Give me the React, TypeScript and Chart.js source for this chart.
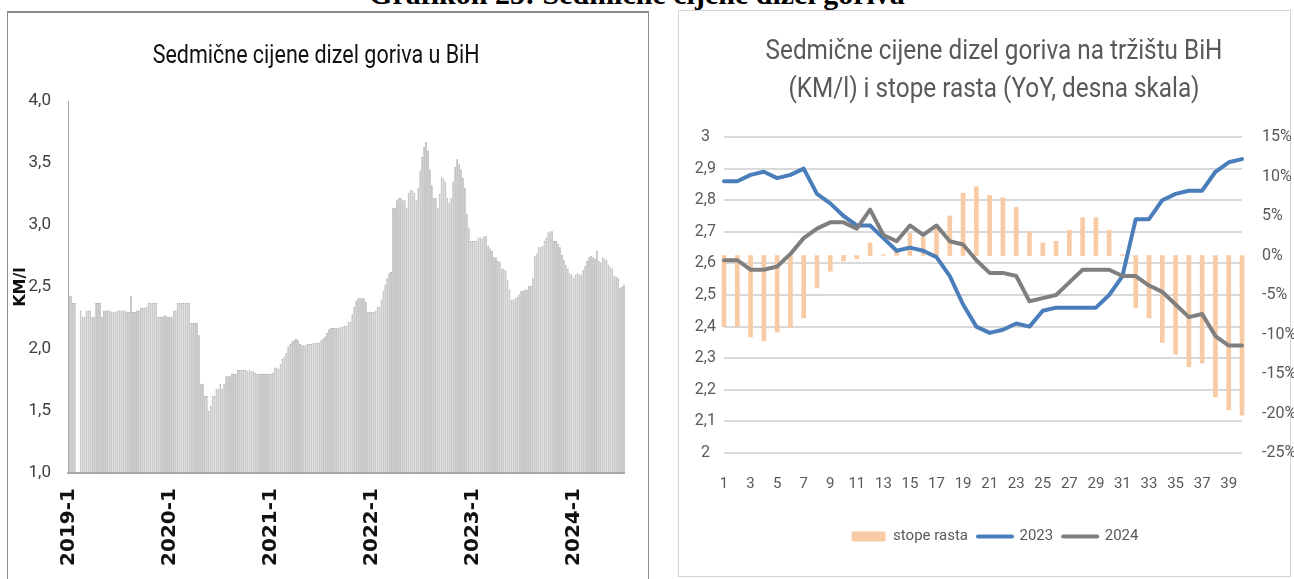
import React, { useEffect, useRef } from 'react';
import { Chart, registerables } from 'chart.js';
Chart.register(...registerables);

const NARROW = "'Liberation Sans Narrow', 'Roboto', sans-serif";

// ---------- Left chart: weekly diesel prices (KM/l), 2019-1 .. 2024-27 ----------
const startYear = 2019;
const weeklyPrices: (number | null)[] = [
  2.43, 2.43, 2.37, 2.37, null, null, 2.31, 2.26, 2.26, 2.31,
  2.31, 2.31, 2.26, 2.26, 2.37, 2.37, 2.37, 2.26, 2.31, 2.31,
  2.31, 2.31, 2.30, 2.30, 2.30, 2.31, 2.31, 2.31, 2.31, 2.31,
  2.30, 2.30, 2.43, 2.30, 2.30, 2.31, 2.31, 2.33, 2.33, 2.33,
  2.34, 2.37, 2.37, 2.37, 2.37, 2.37, 2.26, 2.26, 2.26, 2.27,
  2.27, 2.26, 2.26, 2.26, 2.31, 2.31, 2.37, 2.37, 2.37, 2.37,
  2.37, 2.37, 2.37, 2.21, 2.21, 2.21, 2.21, 2.11, 1.72, 1.72,
  1.62, 1.62, 1.50, 1.54, 1.62, 1.62, 1.68, 1.68, 1.72, 1.68,
  1.72, 1.78, 1.78, 1.78, 1.80, 1.80, 1.80, 1.83, 1.83, 1.83,
  1.83, 1.83, 1.82, 1.83, 1.82, 1.82, 1.81, 1.80, 1.80, 1.80,
  1.80, 1.80, 1.80, 1.80, 1.80, 1.81, 1.85, 1.85, 1.84, 1.88,
  1.92, 1.94, 1.97, 2.02, 2.04, 2.06, 2.07, 2.08, 2.07, 2.04,
  2.03, 2.03, 2.03, 2.04, 2.04, 2.04, 2.05, 2.05, 2.05, 2.05,
  2.07, 2.08, 2.10, 2.13, 2.16, 2.17, 2.17, 2.17, 2.17, 2.17,
  2.18, 2.18, 2.19, 2.19, 2.22, 2.22, 2.28, 2.34, 2.39, 2.41,
  2.41, 2.41, 2.41, 2.38, 2.30, 2.30, 2.30, 2.30, 2.31, 2.34,
  2.34, 2.40, 2.47, 2.52, 2.57, 2.61, 2.62, 3.14, 3.14, 3.20,
  3.22, 3.22, 3.20, 3.20, 3.14, 3.26, 3.28, 3.28, 3.26, 3.20,
  3.30, 3.44, 3.55, 3.63, 3.67, 3.60, 3.45, 3.32, 3.22, 3.22,
  3.14, 3.25, 3.39, 3.37, 3.35, 3.22, 3.18, 3.22, 3.35, 3.47,
  3.53, 3.49, 3.45, 3.38, 3.30, 3.09, 2.98, 2.87, 2.87, 2.87,
  2.87, 2.90, 2.90, 2.89, 2.91, 2.91, 2.83, 2.81, 2.79, 2.74,
  2.74, 2.71, 2.70, 2.65, 2.65, 2.63, 2.56, 2.48, 2.40, 2.40,
  2.41, 2.42, 2.44, 2.47, 2.47, 2.48, 2.48, 2.51, 2.51, 2.57,
  2.75, 2.77, 2.82, 2.82, 2.83, 2.87, 2.90, 2.94, 2.95, 2.95,
  2.87, 2.87, 2.85, 2.82, 2.76, 2.72, 2.68, 2.65, 2.61, 2.60,
  2.57, 2.60, 2.61, 2.60, 2.60, 2.64, 2.67, 2.71, 2.74, 2.75,
  2.74, 2.73, 2.79, 2.71, 2.70, 2.74, 2.73, 2.72, 2.68, 2.66,
  2.65, 2.59, 2.58, 2.57, 2.49, 2.50, 2.52,
];
const weekLabels: string[] = [];
for (let i = 0; i < weeklyPrices.length; i++) {
  weekLabels.push(`${startYear + Math.floor(i / 52)}-${(i % 52) + 1}`);
}
const leftYTicks = [1, 1.5, 2, 2.5, 3, 3.5, 4];

// ---------- Right chart: weeks 1..40, 2023 vs 2024, YoY growth ----------
const weekNums: string[] = [
  '1', '2', '3', '4', '5', '6', '7', '8', '9', '10',
  '11', '12', '13', '14', '15', '16', '17', '18', '19', '20',
  '21', '22', '23', '24', '25', '26', '27', '28', '29', '30',
  '31', '32', '33', '34', '35', '36', '37', '38', '39', '40',
];
const growthRates: number[] = [
  -9.0, -9.0, -10.3, -10.8, -9.7, -9.1, -7.9, -4.1, -2.0, -0.7,
  -0.4, 1.6, 0.1, 0.5, 2.8, 2.3, 3.4, 5.0, 7.9, 8.7,
  7.6, 7.3, 6.1, 3.0, 1.6, 1.8, 3.2, 4.8, 4.8, 3.2,
  0.1, -6.6, -7.9, -11.0, -12.5, -14.1, -13.6, -17.9, -19.5, -20.2,
];
const prices2023: number[] = [
  2.86, 2.86, 2.88, 2.89, 2.87, 2.88, 2.90, 2.82, 2.79, 2.75,
  2.72, 2.72, 2.68, 2.64, 2.65, 2.64, 2.62, 2.56, 2.47, 2.40,
  2.38, 2.39, 2.41, 2.40, 2.45, 2.46, 2.46, 2.46, 2.46, 2.50,
  2.56, 2.74, 2.74, 2.80, 2.82, 2.83, 2.83, 2.89, 2.92, 2.93,
];
const prices2024: number[] = [
  2.61, 2.61, 2.58, 2.58, 2.59, 2.63, 2.68, 2.71, 2.73, 2.73,
  2.71, 2.77, 2.69, 2.67, 2.72, 2.69, 2.72, 2.67, 2.66, 2.61,
  2.57, 2.57, 2.56, 2.48, 2.49, 2.50, 2.54, 2.58, 2.58, 2.58,
  2.56, 2.56, 2.53, 2.51, 2.47, 2.43, 2.44, 2.37, 2.34, 2.34,
];

const fmtComma = (v: number, digits: number) =>
  (Math.round(v * 10) / 10).toFixed(digits).replace('.', ',');

export default function App() {
  const leftRef = useRef<HTMLCanvasElement>(null);
  const rightRef = useRef<HTMLCanvasElement>(null);

  useEffect(() => {
    const left = new Chart(leftRef.current!, {
      type: 'bar',
      data: {
        labels: weekLabels,
        datasets: [
          {
            label: 'KM/l',
            data: weeklyPrices,
            backgroundColor: '#c6c6c6',
            borderColor: '#9c9c9c',
            borderWidth: 0.6,
            barPercentage: 0.9,
            categoryPercentage: 1,
          },
        ],
      },
      options: {
        responsive: false,
        animation: false,
        layout: { padding: { top: 89, right: 0, left: 0, bottom: 0 } },
        plugins: { legend: { display: false }, tooltip: { enabled: false } },
        scales: {
          x: {
            grid: { display: false, drawTicks: false },
            border: { color: '#a6a6a6', width: 2 },
            ticks: {
              autoSkip: false,
              minRotation: 90,
              maxRotation: 90,
              padding: 15,
              color: '#111',
              font: { family: 'DejaVu Sans', weight: 'bold', size: 20 },
              callback: (_v: any, i: number) =>
                weekLabels[i].split('-')[1] === '1' ? weekLabels[i] : '',
            },
            afterFit: (s: any) => {
              s.height = 106;
            },
          },
          y: {
            min: 1,
            max: 4,
            afterBuildTicks: (s: any) => {
              s.ticks = leftYTicks.map((v) => ({ value: v }));
            },
            ticks: {
              padding: 17,
              color: '#404040',
              font: { family: NARROW, size: 17 },
              callback: (v: any) => fmtComma(Number(v), 1),
            },
            grid: { display: false, drawTicks: false },
            border: { color: '#a6a6a6', width: 1 },
            title: {
              display: true,
              text: 'KM/l',
              color: '#111',
              font: { family: 'DejaVu Sans', weight: 'bold', size: 16 },
              padding: { top: 3, bottom: 0 },
            },
            afterFit: (s: any) => {
              s.width = 60;
            },
          },
        },
      },
    } as any);

    const right = new Chart(rightRef.current!, {
      type: 'bar',
      data: {
        labels: weekNums,
        datasets: [
          {
            type: 'bar',
            label: 'stope rasta',
            data: growthRates,
            yAxisID: 'y2',
            backgroundColor: '#F9CBA5',
            barThickness: 4,
            order: 2,
            clip: false,
          },
          {
            type: 'line',
            label: '2023',
            data: prices2023,
            yAxisID: 'y',
            borderColor: '#4A7EBB',
            backgroundColor: '#4A7EBB',
            borderWidth: 4,
            pointRadius: 0,
            borderCapStyle: 'round',
            borderJoinStyle: 'round',
            order: 1,
          },
          {
            type: 'line',
            label: '2024',
            data: prices2024,
            yAxisID: 'y',
            borderColor: '#7F7F7F',
            backgroundColor: '#7F7F7F',
            borderWidth: 4,
            pointRadius: 0,
            borderCapStyle: 'round',
            borderJoinStyle: 'round',
            order: 0,
          },
        ],
      },
      options: {
        responsive: false,
        animation: false,
        layout: { padding: { top: 126, left: 0, right: 0, bottom: 21 } },
        plugins: {
          tooltip: { enabled: false },
          legend: {
            position: 'bottom',
            labels: {
              usePointStyle: true,
              pointStyleWidth: 34,
              boxHeight: 10,
              padding: 10,
              color: '#595959',
              font: { family: NARROW, size: 15 },
              sort: (a: any, b: any) => a.datasetIndex - b.datasetIndex,
              generateLabels: (chart: any) => {
                const items = Chart.defaults.plugins.legend.labels.generateLabels(chart);
                return items.map((it: any) => ({
                  ...it,
                  pointStyle: it.datasetIndex === 0 ? 'rect' : 'line',
                  lineCap: 'round',
                }));
              },
            },
          },
        },
        scales: {
          x: {
            offset: false,
            grid: { display: false, drawTicks: false },
            border: { display: false },
            ticks: {
              autoSkip: false,
              maxRotation: 0,
              padding: 22,
              color: '#595959',
              font: { family: NARROW, size: 15 },
              callback: (_v: any, i: number) => (i % 2 === 0 ? weekNums[i] : ''),
            },
            afterFit: (s: any) => {
              s.height = 66;
            },
          },
          y: {
            position: 'left',
            min: 2,
            max: 3,
            ticks: {
              stepSize: 0.1,
              padding: 8,
              crossAlign: 'center',
              color: '#595959',
              font: { family: NARROW, size: 16 },
              callback: (v: any) => {
                const r = Math.round(Number(v) * 10) / 10;
                return Number.isInteger(r) ? String(r) : fmtComma(r, 1);
              },
            },
            grid: { color: '#d9d9d9', lineWidth: 2, drawTicks: false },
            border: { display: false },
            afterFit: (s: any) => {
              s.width = 34;
            },
          },
          y2: {
            position: 'right',
            min: -25,
            max: 15,
            ticks: {
              stepSize: 5,
              padding: 20,
              color: '#595959',
              font: { family: NARROW, size: 16 },
              callback: (v: any) => `${v}%`,
            },
            grid: { display: false, drawTicks: false },
            border: { display: false },
            afterFit: (s: any) => {
              s.width = 58;
            },
          },
        },
      },
    } as any);

    return () => {
      left.destroy();
      right.destroy();
    };
  }, []);

  return (
    <div
      style={{
        position: 'fixed',
        left: 0,
        top: 0,
        width: 1294,
        height: 579,
        background: '#fff',
        overflow: 'hidden',
      }}
    >
      <div
        style={{
          position: 'absolute',
          left: 0,
          width: 1274,
          top: -21,
          textAlign: 'center',
          fontFamily: "'Liberation Serif', serif",
          fontWeight: 'bold',
          fontSize: 30,
          lineHeight: '30px',
          color: '#000',
          whiteSpace: 'nowrap',
        }}
      >
        Grafikon 25: Sedmične cijene dizel goriva
      </div>
      <div
        style={{
          position: 'absolute',
          left: 7,
          top: 11,
          width: 640,
          height: 600,
          border: '1px solid #8c8c8c',
          borderTop: '2px solid #8c8c8c',
        }}
      />
      <div
        style={{
          position: 'absolute',
          left: 678,
          top: 10,
          width: 611,
          height: 565,
          border: '1px solid #d4d4d4',
        }}
      />
      <canvas
        ref={leftRef}
        width={655}
        height={567}
        style={{ position: 'absolute', left: 8, top: 12, width: 655, height: 567 }}
      />
      <canvas
        ref={rightRef}
        width={610}
        height={564}
        style={{ position: 'absolute', left: 690, top: 11, width: 610, height: 564 }}
      />
      <div
        style={{
          position: 'absolute',
          left: 8,
          width: 614,
          top: 38,
          textAlign: 'center',
          fontFamily: NARROW,
          fontSize: 25,
          lineHeight: '34px',
          color: '#111',
          whiteSpace: 'nowrap',
          transform: 'scaleX(0.86)',
          transformOrigin: '315px 0',
        }}
      >
        Sedmične cijene dizel goriva u BiH
      </div>
      <div
        style={{
          position: 'absolute',
          left: 689,
          width: 610,
          top: 31,
          textAlign: 'center',
          fontFamily: NARROW,
          fontSize: 27,
          lineHeight: '38px',
          color: '#595959',
          whiteSpace: 'nowrap',
          transform: 'scaleX(0.9)',
          transformOrigin: '305px 0',
        }}
      >
        <div>Sedmične cijene dizel goriva na tržištu BiH</div>
        <div>(KM/l) i stope rasta (YoY, desna skala)</div>
      </div>
    </div>
  );
}
